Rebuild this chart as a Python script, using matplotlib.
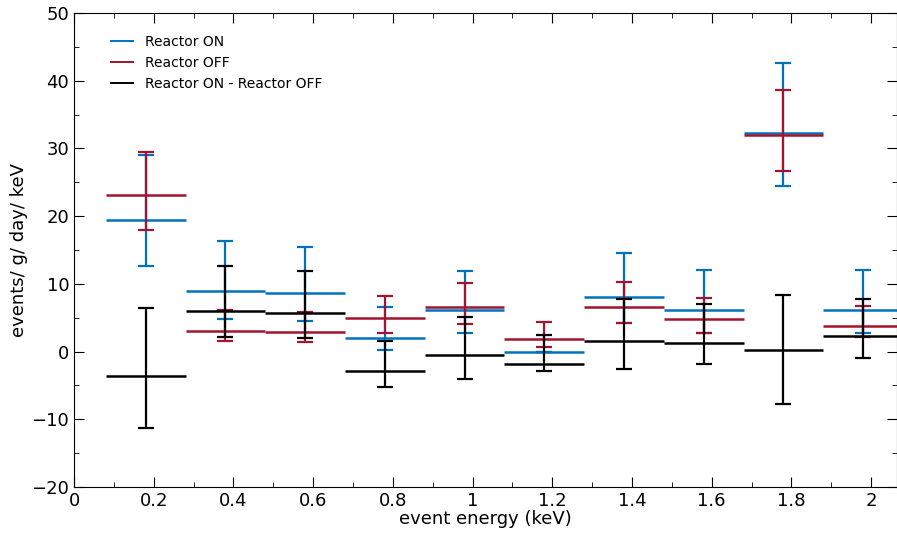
import matplotlib
matplotlib.use("Agg")
import matplotlib.pyplot as plt
from matplotlib.ticker import MultipleLocator, FuncFormatter
from matplotlib.lines import Line2D

centers = [0.18, 0.38, 0.58, 0.78, 0.98, 1.18, 1.38, 1.58, 1.78, 1.98]
halfwidth = 0.1
on_val = [19.4, 9.0, 8.6, 2.0, 6.1, 0.0, 8.0, 6.1, 32.3, 6.1]
on_lo = [12.7, 4.8, 4.5, 0.3, 2.7, 0.0, 4.2, 2.7, 24.5, 2.7]
on_hi = [29.0, 16.4, 15.4, 6.6, 11.9, 0.0, 14.6, 12.0, 42.6, 12.0]
off_val = [23.1, 3.1, 2.9, 4.9, 6.6, 1.9, 6.6, 4.8, 32.0, 3.8]
off_lo = [18.0, 1.5, 1.4, 2.7, 4.1, 0.7, 4.2, 2.7, 26.7, 2.1]
off_hi = [29.5, 6.2, 5.8, 8.2, 10.2, 4.4, 10.3, 7.9, 38.6, 6.8]
diff_val = [-3.6, 6.0, 5.7, -2.9, -0.5, -1.8, 1.5, 1.3, 0.3, 2.3]
diff_lo = [-11.3, 2.1, 2.0, -5.3, -4.1, -2.8, -2.5, -1.9, -7.8, -0.9]
diff_hi = [6.4, 12.6, 11.9, 1.5, 5.1, 2.4, 7.7, 7.0, 8.3, 7.8]

fig = plt.figure(figsize=(8.97, 5.42), dpi=100)
ax = fig.add_axes([74/897, 1-487/542, 1-74/897, (487-13)/542])

series = [(on_val, on_lo, on_hi, '#0072BD', 'Reactor ON'),
          (off_val, off_lo, off_hi, '#A2142F', 'Reactor OFF'),
          (diff_val, diff_lo, diff_hi, 'black', 'Reactor ON - Reactor OFF')]
for v, lo, hi, c, lab in series:
    yerr = [[a - b for a, b in zip(v, lo)], [b - a for a, b in zip(v, hi)]]
    ax.errorbar(centers, v, yerr=yerr, fmt='none', ecolor=c,
                elinewidth=1.6, capsize=6, capthick=1.6)
    ax.hlines(v, [x - halfwidth for x in centers], [x + halfwidth for x in centers],
              colors=c, lw=1.8)

ax.set_xlim(0, 2.065)
ax.set_ylim(-20, 50)
ax.xaxis.set_major_locator(MultipleLocator(0.2))
ax.xaxis.set_minor_locator(MultipleLocator(0.1))
ax.yaxis.set_major_locator(MultipleLocator(10))
ax.yaxis.set_minor_locator(MultipleLocator(5))
ax.xaxis.set_major_formatter(FuncFormatter(lambda x, p: f"{x:g}"))
ax.yaxis.set_major_formatter(FuncFormatter(lambda x, p: f"{x:g}".replace('-', '\u2212')))
ax.tick_params(which='both', direction='in', top=True, right=True, labelsize=13)
ax.tick_params(which='major', length=7)
ax.tick_params(which='minor', length=3.5)
ax.set_xlabel('event energy (keV)', fontsize=13, labelpad=0)
ax.set_ylabel('events/ g/ day/ keV', fontsize=13, labelpad=2)

handles = [Line2D([], [], color=s[3], lw=1.4) for s in series]
ax.legend(handles, [s[4] for s in series], loc='upper left', frameon=False,
          fontsize=10, bbox_to_anchor=(0.03, 0.98), handlelength=1.6)
fig.savefig('out.png', dpi=100)
